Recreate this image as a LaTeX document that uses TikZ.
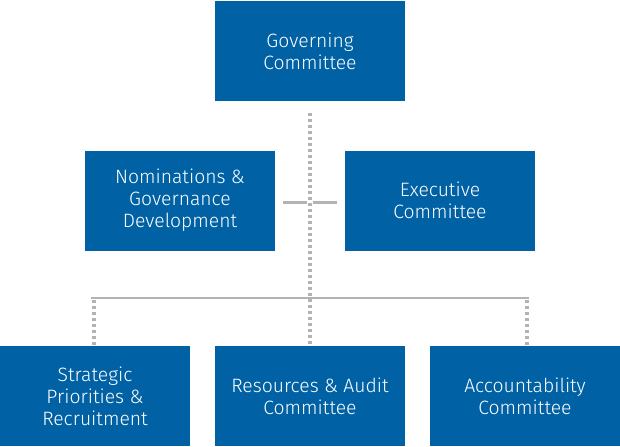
\documentclass[tikz,border=0pt]{standalone}
\usepackage{fontspec}
\setmainfont{Fira Sans Light}
\usepackage{tikz}
\definecolor{boxblue}{HTML}{0062A5}
\definecolor{linegray}{HTML}{B3B3B3}

\begin{document}
\begin{tikzpicture}[x=0.75pt,y=-0.75pt,
  every node/.style={font=\fontsize{14.5}{16.5}\selectfont},
  unit/.style={fill=boxblue,text=white,align=center,inner sep=0pt,
    minimum width=142.5pt,minimum height=75pt},
  link/.style={draw=linegray,line width=1.6pt},
  dots/.style={draw=linegray,line width=2.4pt,dash pattern=on 2.3pt off 2.2pt}]
\useasboundingbox (0,0) rectangle (620,446);
\node[unit] (gov) at (310,51) {Governing\\Committee};
\node[unit] (nom) at (180,200.5) {Nominations \&\\Governance\\Development};
\node[unit] (exe) at (440,200.5) {Executive\\Committee};
\node[unit] (strat) at (95,396) {Strategic\\Priorities \&\\Recruitment};
\node[unit] (res) at (310,396) {Resources \& Audit\\Committee};
\node[unit] (acc) at (525,396) {Accountability\\Committee};
% connectors
\coordinate (bl) at (91,298);
\coordinate (br) at (529,298);
\draw[link] (bl) -- (br);
\draw[link] (283,202.5) -- (307,202.5);
\draw[link] (313,202.5) -- (337,202.5);
\draw[dots] (310,113) -- (res.north);
\draw[dots] (94,300) -- (strat.north -| 94,0);
\draw[dots] (527,300) -- (acc.north -| 527,0);
\end{tikzpicture}
\end{document}
